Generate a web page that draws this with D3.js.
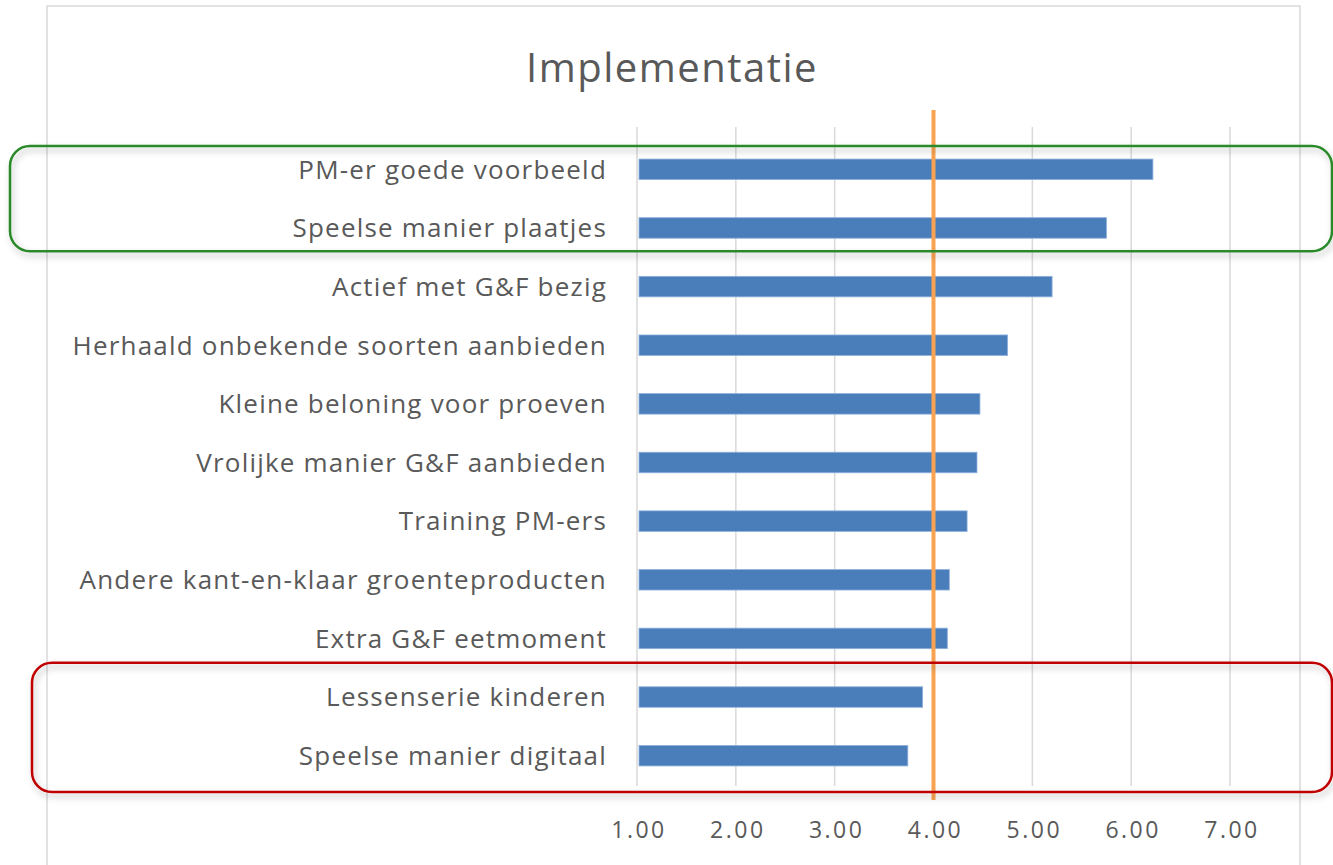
<!DOCTYPE html>
<html>
<head>
<meta charset="utf-8">
<script src="https://cdn.jsdelivr.net/npm/d3@7"></script>
<style>
  body { margin: 0; background: #fff; }
  text { font-family: "Open Sans", sans-serif; fill: #595959; }
</style>
</head>
<body>
<div class="chart"></div>
<script>
var categories = [
  "PM-er goede voorbeeld",
  "Speelse manier plaatjes",
  "Actief met G&F bezig",
  "Herhaald onbekende soorten aanbieden",
  "Kleine beloning voor proeven",
  "Vrolijke manier G&F aanbieden",
  "Training PM-ers",
  "Andere kant-en-klaar groenteproducten",
  "Extra G&F eetmoment",
  "Lessenserie kinderen",
  "Speelse manier digitaal"
];
var values = [6.22, 5.75, 5.20, 4.75, 4.47, 4.44, 4.34, 4.16, 4.14, 3.89, 3.74];
var ticks = [1, 2, 3, 4, 5, 6, 7];
var threshold = 4;
var greenGroup = ["PM-er goede voorbeeld", "Speelse manier plaatjes"];
var redGroup = ["Lessenserie kinderen", "Speelse manier digitaal"];

var width = 1333, height = 865;

var svg = d3.select(".chart").append("svg")
  .attr("width", width)
  .attr("height", height);

var defs = svg.append("defs");
var f = defs.append("filter").attr("id", "shadow")
  .attr("x", "-5%").attr("y", "-20%").attr("width", "110%").attr("height", "150%");
f.append("feDropShadow")
  .attr("dx", 2).attr("dy", 4).attr("stdDeviation", 3)
  .attr("flood-color", "#000").attr("flood-opacity", 0.25);

// chart area border
svg.append("rect")
  .attr("x", 47).attr("y", 6)
  .attr("width", 1253).attr("height", 880)
  .attr("fill", "#fff")
  .attr("stroke", "#d9d9d9")
  .attr("stroke-width", 1.5);

var x = d3.scaleLinear().domain([1, 7]).range([637, 1230]);
var y = d3.scaleBand().domain(categories).range([140, 785])
  .paddingInner(0.65).paddingOuter(0.325);

svg.append("text")
  .attr("x", 672).attr("y", 82)
  .attr("text-anchor", "middle")
  .style("font-size", "40px")
  .style("letter-spacing", "1.5px")
  .text("Implementatie");

// gridlines
svg.append("g").selectAll("line")
  .data(ticks)
  .enter().append("line")
    .attr("x1", d => x(d)).attr("x2", d => x(d))
    .attr("y1", 127).attr("y2", 786)
    .attr("stroke", "#d9d9d9")
    .attr("stroke-width", 1.5);

// tick labels
svg.append("g").selectAll("text")
  .data(ticks)
  .enter().append("text")
    .attr("x", d => x(d) + 2)
    .attr("y", 838)
    .attr("text-anchor", "middle")
    .style("font-size", "23px")
    .style("letter-spacing", "2.5px")
    .text(d => d3.format(".2f")(d));

// bars
svg.append("g").selectAll("rect")
  .data(values)
  .enter().append("rect")
    .attr("x", x(1) + 2)
    .attr("y", (d, i) => y(categories[i]))
    .attr("width", d => x(d) - x(1) - 2)
    .attr("height", y.bandwidth())
    .attr("fill", "#4a7ebb")
    .attr("stroke", "#8fb1dc")
    .attr("stroke-width", 0.8);

// category labels
svg.append("g").selectAll("text")
  .data(categories)
  .enter().append("text")
    .attr("x", 607)
    .attr("y", d => y(d) + y.bandwidth() / 2)
    .attr("dy", "0.36em")
    .attr("text-anchor", "end")
    .style("font-size", "26px")
    .style("letter-spacing", "1.2px")
    .text(d => d);

// threshold line
svg.append("line")
  .attr("x1", x(threshold)).attr("x2", x(threshold))
  .attr("y1", 110).attr("y2", 800)
  .attr("stroke", "#f8a353")
  .attr("stroke-width", 4);

// highlight boxes
function box(group, left, padTop, padBottom, color) {
  var top = y(group[0]) - padTop;
  var bottom = y(group[group.length - 1]) + y.bandwidth() + padBottom;
  svg.append("rect")
    .attr("x", left).attr("y", top)
    .attr("width", 1332 - left).attr("height", bottom - top)
    .attr("rx", 20).attr("ry", 20)
    .attr("fill", "none")
    .attr("stroke", color)
    .attr("stroke-width", 2.5)
    .attr("filter", "url(#shadow)");
}
box(greenGroup, 10, 13, 13, "#2a8a2a");
box(redGroup, 32, 24, 26, "#c00000");
</script>
</body>
</html>
